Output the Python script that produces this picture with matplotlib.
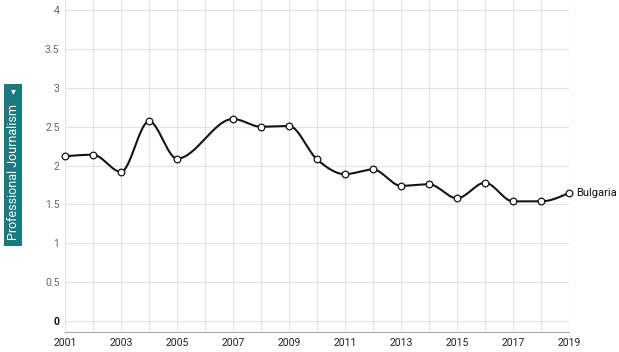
import matplotlib
matplotlib.use("Agg")
import matplotlib.pyplot as plt
import matplotlib.patches as mpatches
import numpy as np

plt.rcParams["font.family"] = ["Roboto", "DejaVu Sans"]

# data (2006 has no point)
years = [2001, 2002, 2003, 2004, 2005, 2007, 2008, 2009, 2010,
         2011, 2012, 2013, 2014, 2015, 2016, 2017, 2018, 2019]
values = [2.12, 2.14, 1.92, 2.57, 2.09, 2.60, 2.50, 2.51, 2.08,
          1.89, 1.95, 1.74, 1.76, 1.58, 1.78, 1.54, 1.54, 1.65]
country = "Bulgaria"
y_label = "Professional Journalism"
x_ticks = list(range(2001, 2020, 2))
y_ticks = [0, 0.5, 1, 1.5, 2, 2.5, 3, 3.5, 4]


def monotone_curve(x, y, n=30):
    # same idea as d3.curveMonotoneX
    x = np.asarray(x, float)
    y = np.asarray(y, float)
    h = np.diff(x)
    s = np.diff(y) / h
    t = np.zeros(len(x))
    for i in range(1, len(x) - 1):
        p = (s[i - 1] * h[i] + s[i] * h[i - 1]) / (h[i - 1] + h[i])
        t[i] = (np.sign(s[i - 1]) + np.sign(s[i])) * min(abs(s[i - 1]), abs(s[i]), 0.5 * abs(p))
    t[0] = (3 * s[0] - t[1]) / 2
    t[-1] = (3 * s[-1] - t[-2]) / 2
    xs, ys = [], []
    for i in range(len(x) - 1):
        u = np.linspace(0, 1, n)
        d = h[i]
        h00 = 2 * u**3 - 3 * u**2 + 1
        h10 = u**3 - 2 * u**2 + u
        h01 = -2 * u**3 + 3 * u**2
        h11 = u**3 - u**2
        xs.append(x[i] + u * d)
        ys.append(h00 * y[i] + h10 * d * t[i] + h01 * y[i + 1] + h11 * d * t[i + 1])
    return np.concatenate(xs), np.concatenate(ys)


fig = plt.figure(figsize=(6.19, 3.52), dpi=100)
ax = fig.add_axes([65 / 619, 20 / 352, 504 / 619, 332 / 352])

cx, cy = monotone_curve(years, values)
ax.plot(cx, cy, color="#111318", lw=1.5, zorder=3, clip_on=False)
ax.plot(years, values, "o", ms=4.8, mfc="white", mec="#111318", mew=0.9, zorder=4, clip_on=False)
ax.text(years[-1] + 0.25, values[-1], country, fontsize=8, va="center", ha="left", color="#111111")

ax.set_xlim(2001, 2019)
ax.set_ylim(-0.14, 4.13)
ax.set_xticks(range(2001, 2020), minor=True)
ax.set_xticks(x_ticks)
ax.set_yticks(y_ticks)
ax.set_yticklabels(["0", "0.5", "1", "1.5", "2", "2.5", "3", "3.5", "4"])
ax.grid(True, which="both", axis="x", color="#e3e3e3", lw=0.8)
ax.grid(True, which="major", axis="y", color="#e3e3e3", lw=0.8)
ax.tick_params(axis="both", which="both", length=0, labelsize=7.5, colors="#333333")
ax.tick_params(axis="y", pad=4, labelcolor="#666666")
ax.tick_params(axis="x", pad=4, labelcolor="#222222")
ax.get_yticklabels()[0].set_color("#111111")
ax.get_yticklabels()[0].set_fontweight("bold")
for side in ["top", "right", "left"]:
    ax.spines[side].set_visible(False)
ax.spines["bottom"].set_color("#aaaaaa")
ax.set_axisbelow(True)

# teal dropdown box with the measure name
fig.patches.append(mpatches.Rectangle((4 / 619, 1 - 246 / 352), 18 / 619, 162 / 352,
                                      transform=fig.transFigure, fc="#1b7a80", ec="none"))
fig.text(13.5 / 619, 1 - 172 / 352, y_label, rotation=90, ha="center", va="center",
         fontsize=9, color="white")
fig.text(13.5 / 619, 1 - 91 / 352, "\u25be", rotation=0, ha="center", va="center",
         fontsize=7, color="white", family=["DejaVu Sans"])

fig.savefig("out.png", dpi=100)
